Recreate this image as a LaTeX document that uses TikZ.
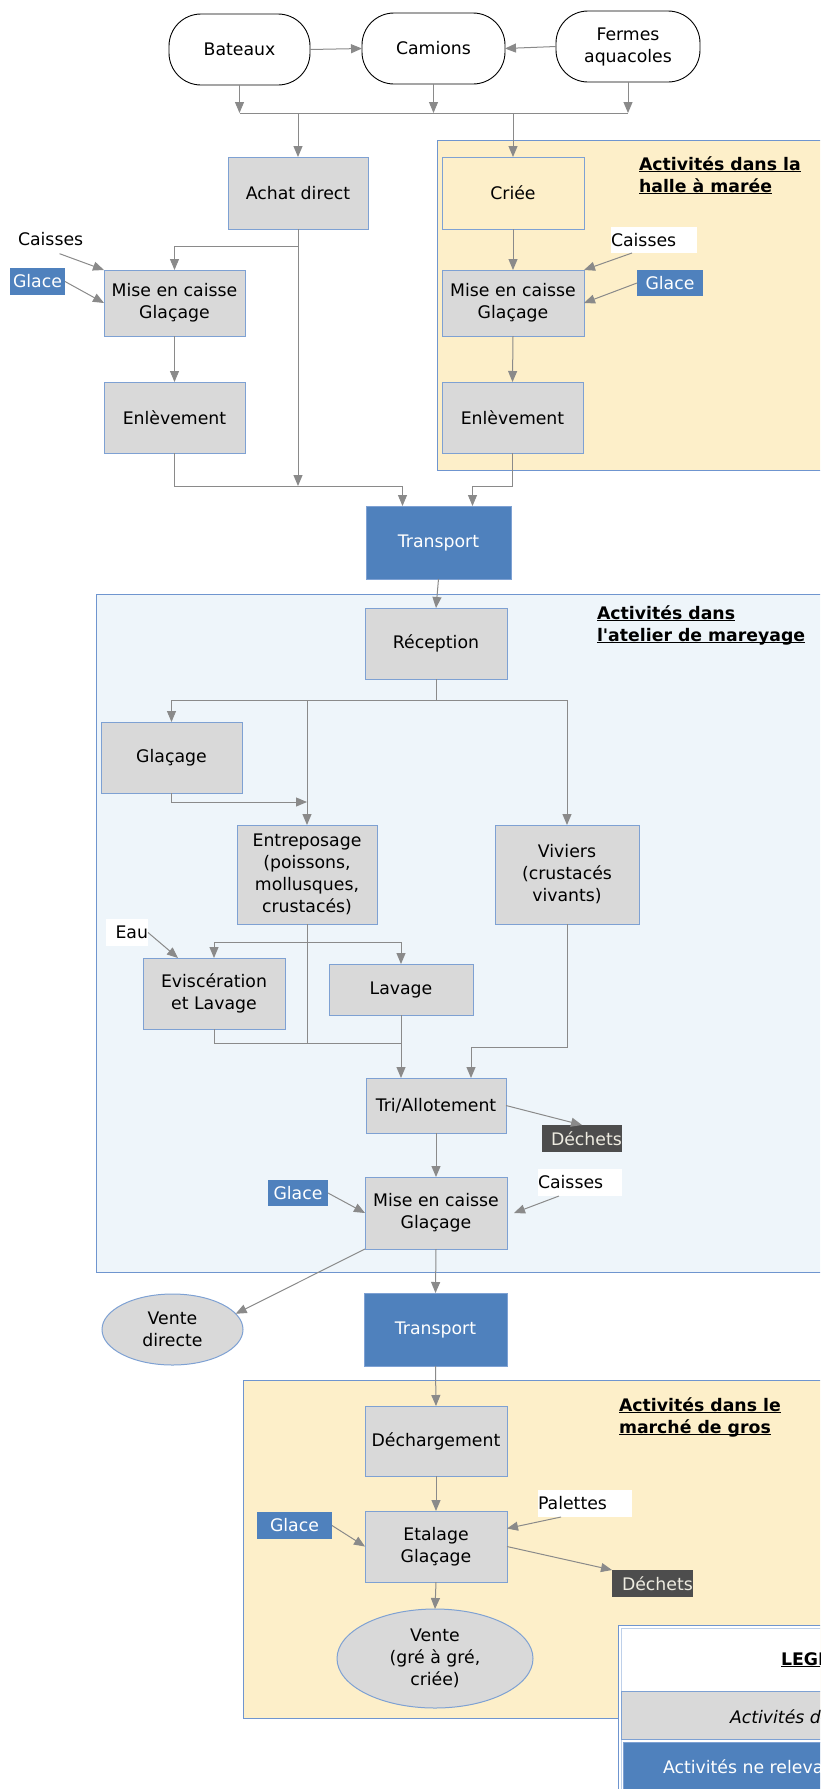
\documentclass[tikz,border=0pt]{standalone}
\usepackage{fontspec}
\setmainfont{DejaVu Sans}
\usetikzlibrary{arrows.meta,shapes.geometric}
\definecolor{yel}{HTML}{FDEFC9}
\definecolor{lblue}{HTML}{EEF5FA}
\definecolor{bord}{HTML}{6F95CF}
\definecolor{boxbord}{HTML}{7EA1D3}
\definecolor{gfill}{HTML}{D9D9D9}
\definecolor{bfill}{HTML}{4F81BD}
\definecolor{dfill}{HTML}{4D4D4D}
\definecolor{dtext}{HTML}{EEECE1}
\definecolor{con}{HTML}{8A8A8A}
\newcommand\ttl[1]{\underline{\smash{#1}}}
\begin{document}
\begin{tikzpicture}[x=1pt,y=-1pt,
 font=\fontsize{17.3}{22}\selectfont,
 every node/.style={inner sep=0pt, outer sep=0pt},
 src/.style={draw=black, line width=0.9pt, fill=white, rounded corners=32pt, align=center},
 act/.style={draw=boxbord, line width=1pt, fill=gfill, align=center},
 ext/.style={draw=boxbord, line width=1pt, fill=bfill, text=white, align=center},
 oval/.style={ellipse, draw=boxbord, line width=1pt, fill=gfill, align=center},
 inbl/.style={fill=bfill, text=white},
 inwh/.style={fill=white, text=black, align=left, anchor=west},
 waste/.style={fill=dfill, text=dtext, align=left, anchor=west},
 title/.style={font=\fontsize{17.3}{22}\selectfont\bfseries, anchor=base west},
 line/.style={draw=con, line width=1pt},
 arr/.style={line, -{Triangle[length=11pt,width=9pt]}},
]
\useasboundingbox (0,0) rectangle (820,1789);
\clip (0,0) rectangle (820,1789);

% regions
\filldraw[fill=yel, draw=bord, line width=1pt] (437,140) rectangle (840,470);
\filldraw[fill=lblue, draw=bord, line width=1pt] (96,594) rectangle (840,1272);
\filldraw[fill=yel, draw=bord, line width=1pt] (243,1380) rectangle (840,1718);

% titles
\node[title] (t1a) at (639,170) {\ttl{Activités dans la}};
\node[title] (t1b) at (639,192) {\ttl{halle à marée}};
\node[title] (t2a) at (597,619) {\ttl{Activités dans}};
\node[title] (t2b) at (597,641) {\ttl{l\textquotesingle atelier de mareyage}};
\node[title] (t3a) at (619,1411) {\ttl{Activités dans le}};
\node[title] (t3b) at (619,1433) {\ttl{marché de gros}};

% sources
\node[src, minimum width=141, minimum height=71] (bat) at (239.5,49.5) {Bateaux};
\node[src, minimum width=143, minimum height=71] (cam) at (433.5,48.5) {Camions};
\node[src, minimum width=144, minimum height=71] (fer) at (628,46.5) {Fermes\\aquacoles};

% activities
\node[act, minimum width=140, minimum height=72] (achat) at (298,193) {Achat direct};
\node[act, fill=yel, minimum width=142, minimum height=72] (criee) at (513,193) {Criée};
\node[act, minimum width=141, minimum height=66] (misel) at (174.5,303) {Mise en caisse\\Glaçage};
\node[act, minimum width=142, minimum height=66] (miser) at (513,303) {Mise en caisse\\Glaçage};
\node[act, minimum width=141, minimum height=71] (enll) at (174.5,417.5) {Enlèvement};
\node[act, minimum width=141, minimum height=71] (enlr) at (512.5,417.5) {Enlèvement};
\node[ext, minimum width=145, minimum height=73] (tr1) at (438.5,542.5) {Transport};
\node[act, minimum width=142, minimum height=71] (recep) at (436,643.5) {Réception};
\node[act, minimum width=141, minimum height=71] (glac) at (171.5,757.5) {Glaçage};
\node[act, minimum width=140, minimum height=99] (entr) at (307,874.5) {Entreposage\\(poissons,\\mollusques,\\crustacés)};
\node[act, minimum width=144, minimum height=99] (viv) at (567,874.5) {Viviers\\(crustacés\\vivants)};
\node[act, minimum width=142, minimum height=71] (evis) at (214,993.5) {Eviscération\\et Lavage};
\node[act, minimum width=144, minimum height=51] (lav) at (401,989.5) {Lavage};
\node[act, minimum width=140, minimum height=55] (tri) at (436,1105.5) {Tri/Allotement};
\node[act, minimum width=142, minimum height=72] (misem) at (436,1213) {Mise en caisse\\Glaçage};
\node[oval, minimum width=141, minimum height=71] (vd) at (172.5,1329.5) {Vente\\directe};
\node[ext, minimum width=143, minimum height=73] (tr2) at (435.5,1329.5) {Transport};
\node[act, minimum width=142, minimum height=70] (dech) at (436,1441) {Déchargement};
\node[act, minimum width=142, minimum height=71] (etal) at (436,1546.5) {Etalage\\Glaçage};
\node[oval, minimum width=196, minimum height=99] (vente) at (435,1658.5) {Vente\\(gré à gré,\\criée)};

% inputs / outputs
\node[anchor=west] (caisl) at (18,239) {Caisses};
\node[inbl, minimum width=55, minimum height=27] (glacl) at (37.5,281.5) {Glace};
\node[inwh, text width=86, minimum height=26] (caisr) at (611,240) {Caisses};
\node[inbl, minimum width=66, minimum height=26] (glacr) at (670,283) {Glace};
\node[inwh, text width=42, minimum height=27, align=right] (eau) at (106,932.5) {Eau};
\node[waste, text width=80, minimum height=27] (dw1) at (542,1138.5) {\hspace*{9pt}Déchets};
\node[inbl, minimum width=60, minimum height=26] (glacm) at (298,1193) {Glace};
\node[inwh, text width=84, minimum height=27] (caism) at (538,1182.5) {Caisses};
\node[inwh, text width=94, minimum height=27] (pal) at (538,1503.5) {Palettes};
\node[inbl, minimum width=75, minimum height=27] (glacw) at (294.5,1525.5) {Glace};
\node[waste, text width=81, minimum height=27] (dw2) at (612,1583.5) {\hspace*{10pt}Déchets};

% helper coordinates
\coordinate (h1) at (0,113);
\coordinate (h2) at (0,246);
\coordinate (h3) at (0,486);
\coordinate (h4) at (0,700);
\coordinate (h5) at (0,802);
\coordinate (h6) at (0,942);
\coordinate (h7) at (0,1043);
\coordinate (h8) at (0,1047);
\coordinate (t1l) at ([xshift=-36pt]tr1.north);
\coordinate (t1r) at ([xshift=34pt]tr1.north);
\coordinate (tril) at ([xshift=-35pt]tri.north);
\coordinate (trir) at ([xshift=35pt]tri.north);

% connectors
\draw[arr] (bat.east) -- (cam.west);
\draw[arr] (fer.west) -- (cam.east);
\draw[arr] (bat.south) -- (bat.south|-h1);
\draw[arr] (cam.south) -- (cam.south|-h1);
\draw[arr] (fer.south) -- (fer.south|-h1);
\draw[line] (bat.south|-h1) -- (fer.south|-h1);
\draw[arr] (achat.north|-h1) -- (achat.north);
\draw[arr] (criee.north|-h1) -- (criee.north);

\draw[arr] (achat.south) -- (achat.south|-h3);
\draw[arr] (achat.south|-h2) -| (misel.north);
\draw[arr] ([shift={(9,8)}]caisl.south) -- (misel.north west);
\draw[arr] (glacl.east) -- (misel.west);
\draw[arr] (misel.south) -- (enll.north);
\draw[arr] (criee.south) -- (miser.north);
\draw[arr] ([xshift=-22pt]caisr.south) -- (miser.north east);
\draw[arr] (glacr.west) -- (miser.east);
\draw[arr] (miser.south) -- (enlr.north);
\draw[arr] (enll.south) |- (t1l|-h3) -- (t1l);
\draw[arr] (enlr.south) |- (t1r|-h3) -- (t1r);

\draw[arr] (tr1.south) -- (recep.north);
\draw[line] (recep.south) -- (recep.south|-h4);
\draw[line] (glac.north|-h4) -- (viv.north|-h4);
\draw[arr] (glac.north|-h4) -- (glac.north);
\draw[arr] (entr.north|-h4) -- (entr.north);
\draw[arr] (viv.north|-h4) -- (viv.north);
\draw[arr] (glac.south) |- (entr.north|-h5);

\draw[line] (entr.south) -- (entr.south|-h7) -- (lav.south|-h7);
\draw[line] (evis.north|-h6) -- (lav.north|-h6);
\draw[arr] (evis.north|-h6) -- (evis.north);
\draw[arr] (lav.north|-h6) -- (lav.north);
\draw[line] (evis.south) |- (lav.south|-h7);
\draw[arr] (eau.east) -- ([xshift=-36pt]evis.north);
\draw[arr] (lav.south) -- (tril);
\draw[arr] (viv.south) |- (trir|-h8) -- (trir);
\draw[arr] (tri.east) -- (dw1.north);
\draw[arr] (tri.south) -- (misem.north);
\draw[arr] (glacm.east) -- (misem.west);
\draw[arr] ([xshift=-21pt]caism.south) -- ([xshift=7pt]misem.east);
\draw[arr] (misem.south) -- (tr2.north);
\draw[arr] (misem.south west) -- (vd.14);

\draw[arr] (tr2.south) -- (dech.north);
\draw[arr] (dech.south) -- (etal.north);
\draw[arr] ([xshift=-24pt]pal.south) -- ([yshift=18pt]etal.east);
\draw[arr] (glacw.east) -- (etal.west);
\draw[arr] (etal.east) -- (dw2.north west);
\draw[arr] (etal.south) -- (vente.north);

% legend
\filldraw[fill=white, draw=bord, line width=1pt] (618,1625) rectangle (840,1800);
\draw[draw=boxbord!50, line width=1pt] (621,1628) rectangle (840,1800);
\filldraw[fill=gfill, draw=boxbord, line width=1pt] (621,1691) rectangle (840,1739);
\filldraw[fill=bfill, draw=boxbord, line width=1pt] (623,1742) rectangle (840,1800);
\node[title] (lgt) at (781,1665) {\ttl{LEGENDE}};
\node[anchor=base west, font=\fontsize{17.3}{22}\selectfont\itshape] (lg1) at (730,1723) {Activités de mareyage};
\node[anchor=base west, text=white] (lg2) at (663,1773) {Activités ne relevant pas du mareyage};
\end{tikzpicture}
\end{document}
